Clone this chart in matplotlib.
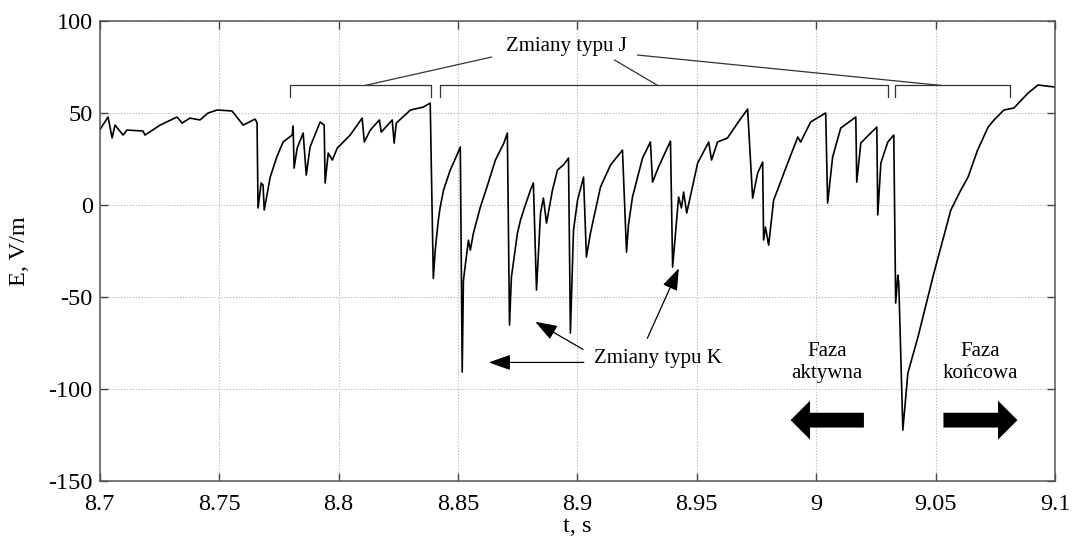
import numpy as np
import matplotlib
matplotlib.use("Agg")
import matplotlib.pyplot as plt

plt.rcParams['font.family'] = ['Liberation Serif', 'DejaVu Serif']
plt.rcParams['axes.unicode_minus'] = False

# time, s
t = [8.7000, 8.7035, 8.7052, 8.7064, 8.7098, 8.7114, 8.7181, 8.7190, 8.7253, 8.7324,
     8.7345, 8.7378, 8.7420, 8.7454, 8.7492, 8.7554, 8.7601, 8.7651, 8.7659, 8.7663,
     8.7676, 8.7684, 8.7689, 8.7714, 8.7742, 8.7768, 8.7806, 8.7810, 8.7814, 8.7827, 8.7852,
     8.7865, 8.7881, 8.7923, 8.7940, 8.7944, 8.7957, 8.7974, 8.7995, 8.8049, 8.8099,
     8.8108, 8.8133, 8.8171, 8.8179, 8.8225, 8.8233, 8.8242, 8.8301, 8.8355, 8.8384,
     8.8397, 8.8405, 8.8418, 8.8426, 8.8440, 8.8468, 8.8496, 8.8510, 8.8518, 8.8523,
     8.8544, 8.8552, 8.8565, 8.8594, 8.8622, 8.8657, 8.8692, 8.8707, 8.8716, 8.8724,
     8.8749, 8.8762, 8.8780, 8.8804, 8.8816, 8.8829, 8.8846, 8.8858, 8.8871, 8.8896,
     8.8917, 8.8942, 8.8963, 8.8971, 8.8984, 8.9001, 8.9026, 8.9038, 8.9055, 8.9076,
     8.9097, 8.9139, 8.9189, 8.9206, 8.9214, 8.9231, 8.9273, 8.9306, 8.9315, 8.9340,
     8.9390, 8.9399, 8.9424, 8.9436, 8.9445, 8.9458, 8.9504, 8.9550, 8.9562, 8.9587,
     8.9629, 8.9671, 8.9713, 8.9734, 8.9755, 8.9776, 8.9780, 8.9788, 8.9801, 8.9822,
     8.9843, 8.9881, 8.9923, 8.9935, 8.9977, 9.0040, 9.0048, 9.0069, 9.0103, 9.0166,
     9.0170, 9.0187, 9.0220, 9.0254, 9.0258, 9.0271, 9.0300, 9.0325, 9.0333, 9.0342,
     9.0346, 9.0363, 9.0384, 9.0426, 9.0493, 9.0564, 9.0606, 9.0636, 9.0676, 9.0720,
     9.0745, 9.0786, 9.0828, 9.0887, 9.0929, 9.1000]
# electric field, V/m
E = [40.9, 48.0, 36.6, 43.6, 38.2, 40.9, 40.4, 38.2, 43.6, 48.0,
     44.7, 47.4, 46.4, 50.2, 51.8, 51.3, 43.6, 46.9, 44.7, -1.5,
     12.1, 11.0, -2.6, 15.3, 26.4, 34.4, 38.2, 43.1, 20.2, 31.1, 39.3,
     16.4, 31.7, 45.3, 43.6, 12.1, 28.4, 24.6, 31.1, 38.2, 47.4,
     34.4, 40.9, 46.4, 39.8, 46.4, 33.8, 44.7, 51.8, 53.4, 55.6,
     -39.8, -24.4, -8.1, -0.8, 8.3, 19.2, 27.3, 31.7, -90.7, -40.9,
     -19.0, -24.4, -15.1, -1.0, 10.1, 24.6, 33.7, 39.3, -65.2, -39.1,
     -15.3, -8.1, -0.8, 8.3, 12.1, -46.1, -4.2, 3.9, -9.7, 8.3,
     19.2, 21.9, 25.7, -69.5, -13.5, 2.8, 15.3, -28.2, -15.1, -2.6,
     9.9, 21.9, 30.0, -25.5, -10.8, 4.5, 25.7, 34.4, 12.6, 20.8,
     34.9, -33.6, 4.5, -1.5, 7.2, -4.2, 23.0, 34.4, 24.6, 34.4,
     36.6, 44.7, 52.3, 3.9, 17.5, 23.5, -18.9, -11.9, -21.7, 2.8,
     9.9, 23.0, 37.1, 34.4, 45.3, 50.2, 1.2, 26.2, 42.0, 48.0,
     12.6, 33.8, 38.2, 42.5, -5.3, 23.0, 34.4, 38.2, -53.2, -38.0,
     -42.3, -122.3, -91.3, -71.8, -36.9, -2.6, 8.3, 15.3, 30.0, 42.5,
     46.4, 51.8, 52.9, 61.0, 65.4, 64.3]

xticks = [8.7, 8.75, 8.8, 8.85, 8.9, 8.95, 9.0, 9.05, 9.1]
xtick_labels = ['8.7', '8.75', '8.8', '8.85', '8.9', '8.95', '9', '9.05', '9.1']
yticks = [-150, -100, -50, 0, 50, 100]

# "Zmiany typu J" brackets: (start, end)
j_brackets = [(8.7795, 8.8389), (8.8426, 9.0301), (9.0330, 9.0811)]
j_bracket_level = 65.2
j_bracket_tick = 58.9
j_label = (8.8954, 86.6)
j_lines = [((8.8640, 80.6), (8.8112, 65.2)),
           ((8.9156, 79.0), (8.9336, 65.2)),
           ((8.9253, 81.7), (9.0522, 65.2))]

k_label = (8.9338, -83.3)
k_arrows = [((8.9027, -85.5), (8.8629, -85.5)),
            ((8.9024, -78.4), (8.8824, -63.4)),
            ((8.9293, -72.4), (8.9425, -34.3))]

phase_y = -116.9
phase_active = (9.0200, 8.9893)
phase_final = (9.0533, 9.0843)

fig = plt.figure(figsize=(10.73, 5.41), dpi=100)
ax = fig.add_axes([0.0929, 0.1109, 0.8903, 0.8495])

ax.plot(t, E, color='black', lw=1.2)

ax.set_xlim(8.7, 9.1)
ax.set_ylim(-150, 100)
ax.set_xticks(xticks)
ax.set_xticklabels(xtick_labels)
ax.set_yticks(yticks)
ax.grid(True, linestyle=':', color='#b0b0b0', lw=0.8)
ax.tick_params(direction='in', length=6, width=1.0, color='#444444',
               top=True, right=True, labelsize=17.5)
ax.tick_params(axis='x', pad=9)
ax.tick_params(axis='y', pad=5)
for s in ax.spines.values():
    s.set_color('#555555')
    s.set_linewidth(1.1)
ax.set_xlabel('t, s', fontsize=17.5, labelpad=1)
ax.set_ylabel('E, V/m', fontsize=17.5, labelpad=13)

ann_col = '#333333'
for a, b in j_brackets:
    ax.plot([a, a, b, b], [j_bracket_tick, j_bracket_level, j_bracket_level, j_bracket_tick],
            color=ann_col, lw=0.9)
for p0, p1 in j_lines:
    ax.plot([p0[0], p1[0]], [p0[1], p1[1]], color=ann_col, lw=0.9)
ax.text(j_label[0], j_label[1], 'Zmiany typu J', fontsize=15, ha='center', va='center')

ax.text(k_label[0], k_label[1], 'Zmiany typu K', fontsize=15, ha='center', va='center')
for tail, head in k_arrows:
    ax.annotate('', xy=head, xytext=tail,
                arrowprops=dict(arrowstyle='-|>,head_length=0.45,head_width=0.16',
                                mutation_scale=30, color='black', lw=0.9,
                                shrinkA=0, shrinkB=0))

ax.text((phase_active[0] + phase_active[1]) / 2, -85.6, 'Faza\naktywna', fontsize=15,
        ha='center', va='center', linespacing=1.2)
ax.text((phase_final[0] + phase_final[1]) / 2, -85.6, 'Faza\nkońcowa', fontsize=15,
        ha='center', va='center', linespacing=1.2)
for tail, tip in [phase_active, phase_final]:
    ax.annotate('', xy=(tip, phase_y), xytext=(tail, phase_y),
                arrowprops=dict(arrowstyle='simple,head_length=0.5,head_width=1.0,tail_width=0.38',
                                mutation_scale=28, color='black', lw=0,
                                shrinkA=0, shrinkB=0))

fig.savefig('out.png', dpi=100)
